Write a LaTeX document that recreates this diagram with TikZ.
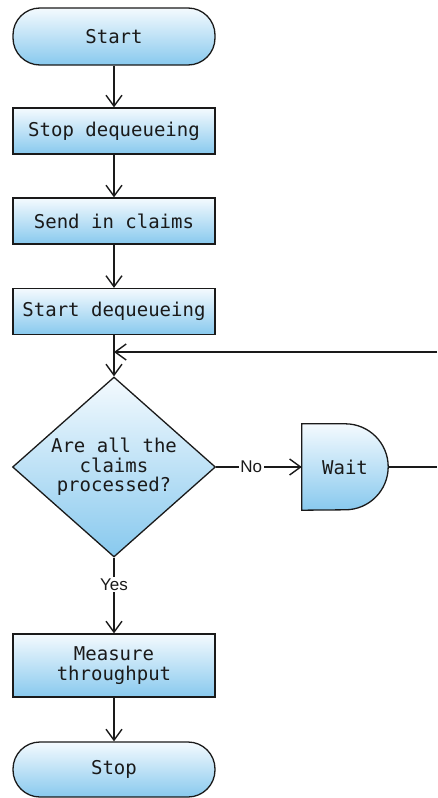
\documentclass[tikz,border=0pt]{standalone}
\usepackage{fontspec}
\usetikzlibrary{shapes.geometric,arrows.meta,backgrounds}
\newfontfamily\flowmono{DejaVu Sans Mono}
\newfontfamily\flowsans{Liberation Sans}
\definecolor{boxtop}{HTML}{F4FAFE}
\definecolor{boxbot}{HTML}{88C9EE}
\definecolor{ink}{HTML}{1A1A1A}

\begin{document}
\begin{tikzpicture}[x=1pt,y=-1pt,
  base/.style={draw=ink, line width=1.3pt, top color=boxtop, bottom color=boxbot,
    text=ink, font=\flowmono\fontsize{19}{19.3}\selectfont, align=center, inner sep=0pt},
  procbox/.style={base, rectangle, minimum width=202pt},
  terminal/.style={base, rectangle, rounded corners=27pt, minimum width=202pt},
  decision/.style={base, diamond, aspect=1.128, minimum width=203pt, minimum height=180pt},
  flow/.style={draw=ink, line width=1.4pt,
    -{Straight Barb[length=11pt,width=16pt,line width=1.4pt]}},
  link/.style={draw=ink, line width=1.4pt},
  lbl/.style={fill=white, text=ink, font=\flowsans\fontsize{17}{17}\selectfont, inner sep=1.5pt}
]
\useasboundingbox (0,0) rectangle (437,798);

% main column
\node[terminal, minimum height=57pt] (start) at (114,36.5) {Start};
\node[procbox, minimum height=46pt] (stopdq) at (114,131) {Stop dequeueing};
\node[procbox, minimum height=46pt] (send) at (114,221) {Send in claims};
\node[procbox, minimum height=46pt] (startdq) at (114,311.5) {Start dequeueing};
\node[decision] (check) at (114,467) {Are all the\\claims\\processed?};
\node[procbox, minimum height=63pt] (measure) at (114,665.5) {Measure\\throughput};
\node[terminal, minimum height=55pt] (stop) at (114,769.5) {Stop};

% delay step on the "No" branch
\node[text=ink, font=\flowmono\fontsize{19}{19.3}\selectfont, inner sep=0pt,
      minimum width=86pt, minimum height=86pt] (wait) at (345,467) {Wait};
\begin{scope}[on background layer]
  \shade[draw=ink, line width=1.3pt, top color=boxtop, bottom color=boxbot]
    (wait.north west) -- ([xshift=-43pt]wait.north east)
    arc[start angle=90, end angle=-90, radius=43pt]
    -- (wait.south west) -- cycle;
\end{scope}

% loop back into the decision
\coordinate (merge) at (114,352);
\coordinate (loopin) at (437,352);
\coordinate (loopout) at (437,467);

\draw[flow] (start) -- (stopdq);
\draw[flow] (stopdq) -- (send);
\draw[flow] (send) -- (startdq);
\draw[flow] (startdq) -- (check);
\draw[flow] (loopin) -- (merge);
\draw[flow] (check) -- node[lbl, pos=0.41] {No} (wait);
\draw[link] (wait.east) -- (loopout);
\draw[flow] (check) -- node[lbl, pos=0.36] {Yes} (measure);
\draw[flow] (measure) -- (stop);
\end{tikzpicture}
\end{document}
